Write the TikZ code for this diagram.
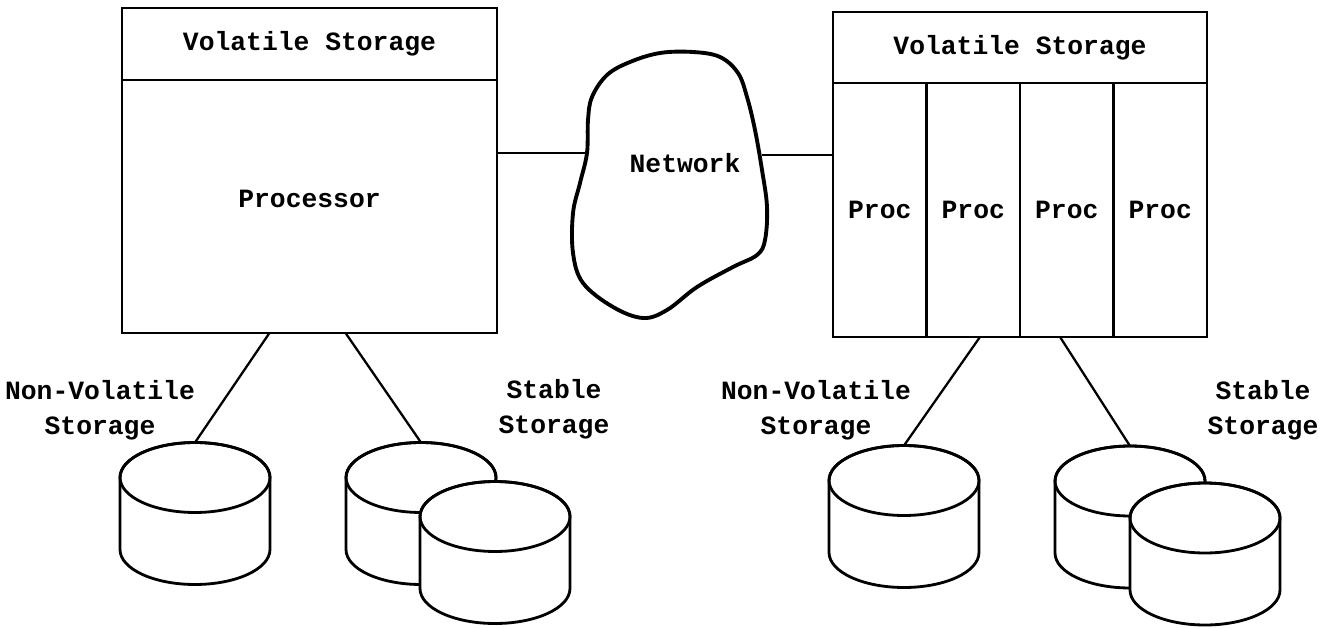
\documentclass[tikz,border=0pt]{standalone}
\usepackage{fontspec}
\setmonofont{Liberation Mono}
\usepackage{tikz}
\usetikzlibrary{positioning,calc}

\begin{document}
\begin{tikzpicture}[x=0.02cm,y=-0.02cm,
  every node/.style={font=\ttfamily\bfseries\fontsize{15}{20}\selectfont},
  cell/.style={draw,line width=1.6pt,inner sep=0pt,outer sep=0pt},
  wire/.style={line width=1.3pt},
  disk/.pic={
    \path[draw,fill=white,line width=1.6pt] (-75,-36) -- (-75,36)
      arc[start angle=180,end angle=360,x radius=1.5cm,y radius=0.7cm] -- (75,-36)
      arc[start angle=0,end angle=180,x radius=1.5cm,y radius=0.7cm] -- cycle;
    \draw[line width=1.6pt] (0,-36) ellipse[x radius=1.5cm,y radius=0.7cm];
    \coordinate (-top) at (0,-71);
  }]
\useasboundingbox (0,0) rectangle (1337,628);
% single processor site
\node[cell,minimum width=7.5cm,minimum height=1.44cm] (vsL) at (309.5,44) {Volatile Storage};
\node[cell,minimum width=7.5cm,minimum height=5.06cm,below=0pt of vsL,text depth=0.3cm] (procL) {Processor};
% multiprocessor site
\node[cell,minimum width=7.48cm,minimum height=1.42cm] (vsR) at (1020,47.5) {Volatile Storage};
\node[cell,minimum width=1.87cm,minimum height=5.08cm,anchor=north west] (p1) at (vsR.south west) {Proc};
\node[cell,minimum width=1.87cm,minimum height=5.08cm,right=0pt of p1] (p2) {Proc};
\node[cell,minimum width=1.87cm,minimum height=5.08cm,right=0pt of p2] (p3) {Proc};
\node[cell,minimum width=1.87cm,minimum height=5.08cm,right=0pt of p3] (p4) {Proc};
% network
\draw[line width=2.2pt] plot[smooth cycle,tension=0.6] coordinates {
  (693,52) (720,57) (738,73) (747,97) (755,130) (762,170) (767,207) (765,240)
  (757,255) (733,267) (697,287) (667,310) (643,318) (613,307) (583,283)
  (573,253) (573,213) (580,183) (587,153) (588,120) (592,97) (607,75)
  (630,62) (660,53)};
\node (net) at (685,163) {Network};
\coordinate (netW) at (587,153);
\coordinate (netE) at (762,155);
\draw[wire] (procL.east |- netW) -- (netW);
\draw[wire] (netE) -- (p1.west |- netE);
% disks
\pic (nvL) at (195,513.5) {disk};
\pic (stL) at (421,513.5) {disk};
\pic (stL2) at (495,552.5) {disk};
\pic (nvR) at (904,516.5) {disk};
\pic (stR) at (1130,517) {disk};
\pic (stR2) at (1205,554) {disk};
\draw[wire] ($(procL.south)+(-40,0)$) -- (nvL-top);
\draw[wire] ($(procL.south)+(36,0)$) -- (stL-top);
\draw[wire] ($(p2.south east)+(-40,0)$) -- (nvR-top);
\draw[wire] ($(p2.south east)+(40,0)$) -- (stR-top);
\node[align=center] (nvLlab) at (100,410) {Non-Volatile\\Storage};
\node[align=center] (stLlab) at (554,409) {Stable\\Storage};
\node[align=center] (nvRlab) at (816,410) {Non-Volatile\\Storage};
\node[align=center] (stRlab) at (1263,410) {Stable\\Storage};
\end{tikzpicture}
\end{document}
